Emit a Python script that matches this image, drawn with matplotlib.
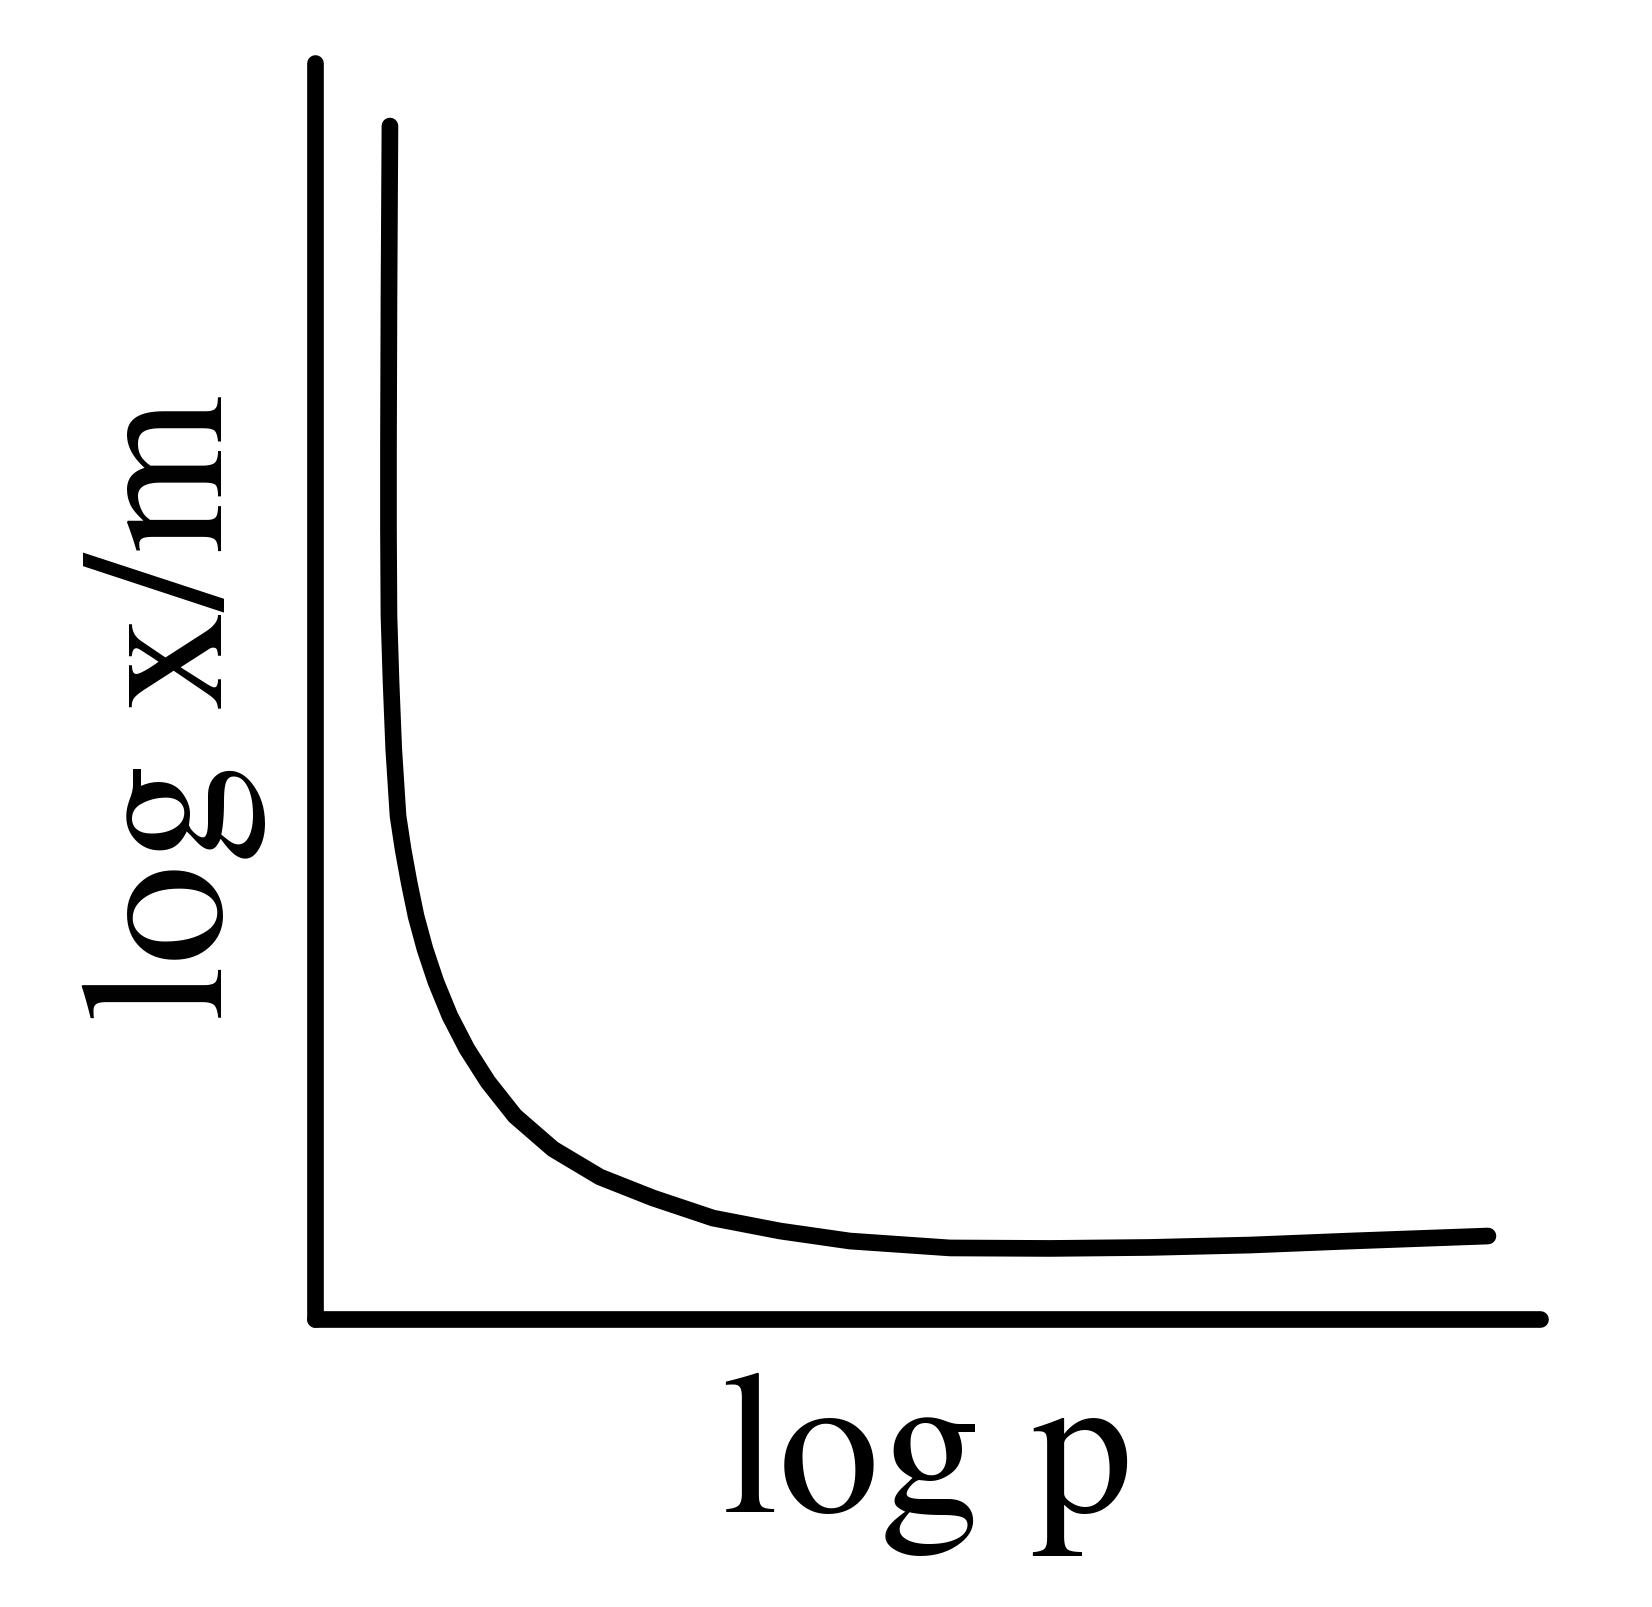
import os
import matplotlib.pyplot as plt
from matplotlib import font_manager

# adsorption isotherm sketch: log x/m against log p (axes units 0-10)
log_p = [0.612, 0.604, 0.600, 0.600, 0.604, 0.621, 0.643, 0.678, 0.719, 0.768, 0.825, 0.898,
         0.988, 1.102, 1.241, 1.413, 1.633, 1.944, 2.327, 2.760, 3.250, 3.797, 4.369,
         5.186, 6.002, 6.819, 7.636, 8.452, 9.579]
log_xm = [9.498, 8.120, 6.926, 6.289, 5.596, 5.070, 4.536, 4.003, 3.739, 3.476, 3.206, 2.943,
          2.680, 2.409, 2.147, 1.884, 1.613, 1.350, 1.127, 0.960, 0.800, 0.697, 0.617,
          0.562, 0.558, 0.566, 0.585, 0.617, 0.657]
x_label = 'log p'
y_label = 'log x/m'

# Times-like serif: the STIX font shipped with matplotlib, else Liberation Serif
for path in font_manager.findSystemFonts():
    if os.path.basename(path).lower().startswith('liberationserif-regular'):
        font_manager.fontManager.addfont(path)
names = {f.name for f in font_manager.fontManager.ttflist}
serif = 'DejaVu Serif'
for cand in ['STIXGeneral', 'Liberation Serif', 'Tinos', 'Times New Roman']:
    if cand in names:
        serif = cand
        break
plt.rcParams['font.family'] = [serif, 'DejaVu Serif']

fig = plt.figure(figsize=(16.52, 16.08), dpi=100)
ax = fig.add_axes([315 / 1652, 1 - 1319.5 / 1608, 1224.5 / 1652, 1255.5 / 1608])

ax.plot(log_p, log_xm, color='black', lw=12.0, solid_capstyle='round', solid_joinstyle='round')
ax.set_xlim(0, 10)
ax.set_ylim(0, 10)

for side in ['top', 'right']:
    ax.spines[side].set_visible(False)
for side in ['left', 'bottom']:
    ax.spines[side].set_linewidth(12.0)
    ax.spines[side].set_capstyle('round')
ax.set_xticks([])
ax.set_yticks([])

fig.text(928 / 1652, 1 - 1512.5 / 1608, x_label, fontsize=146, ha='center', va='baseline')
fig.text(222 / 1652, 1 - 708.5 / 1608, y_label, fontsize=146, rotation=90,
         ha='center', va='baseline', rotation_mode='anchor')

fig.savefig('out.png', dpi=100, facecolor='white')
